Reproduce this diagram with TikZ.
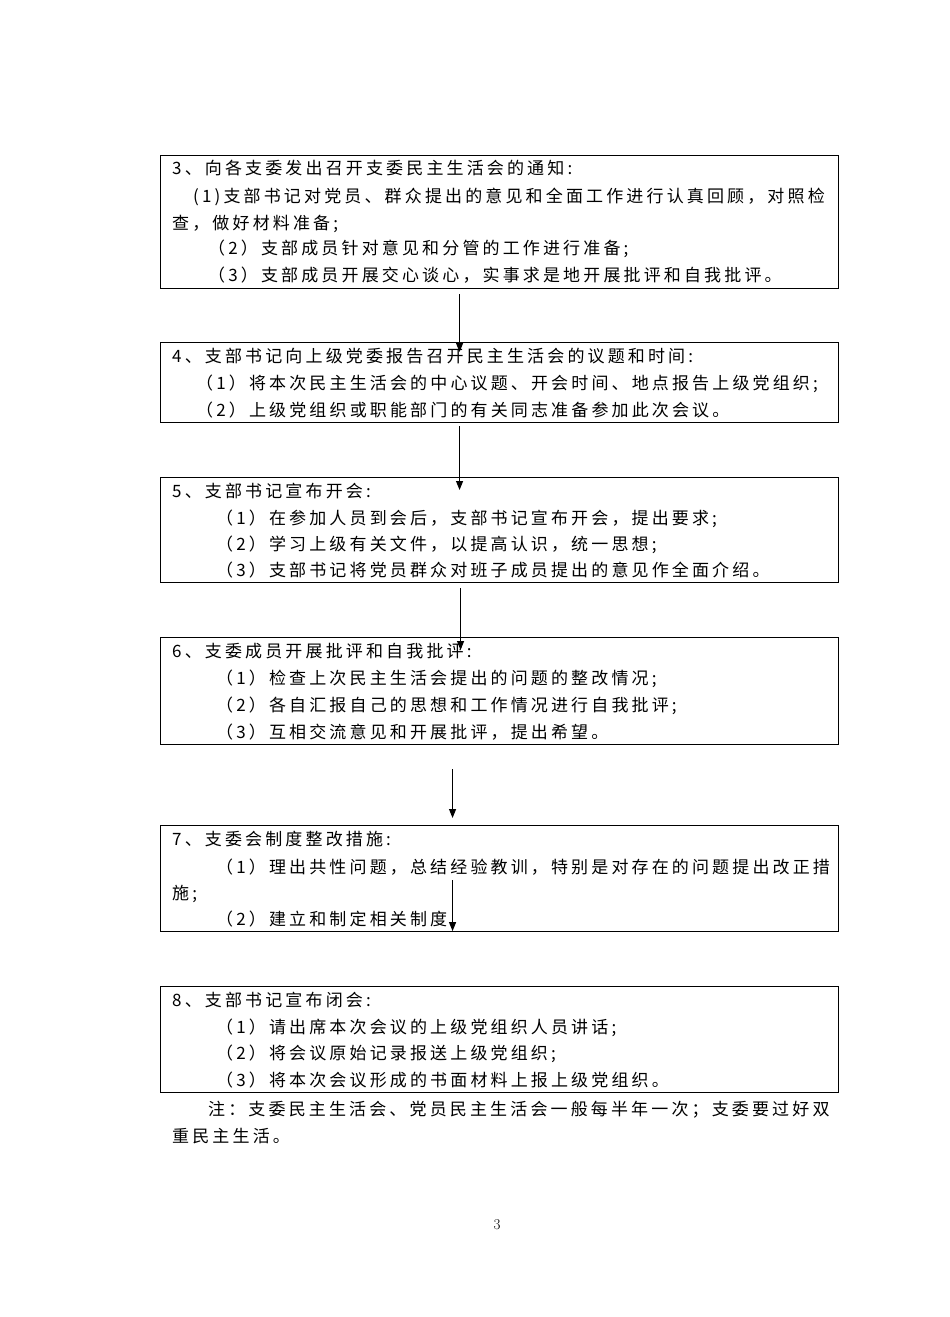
\documentclass[tikz,border=0pt]{standalone}
\usepackage{fontspec}
\usetikzlibrary{arrows.meta}
\newfontfamily\cjk[LetterSpace=18.5]{Noto Sans CJK SC}
\tikzset{
  box/.style={draw, line width=1.1pt, inner sep=0pt, anchor=north west},
  tl/.style={anchor=base west, inner sep=0pt, font=\cjk\fontsize{17}{17}\selectfont},
  arr/.style={line width=1.1pt, -{Triangle[length=9pt,width=7pt]}}
}
\begin{document}
\begin{tikzpicture}[x=1pt,y=-1pt]
\fill[white] (0,0) rectangle (950,1317);
\useasboundingbox (0,0) rectangle (950,1317);
% boxes
\node[box, minimum width=678pt, minimum height=133pt] (b3) at (160,155) {};
\node[box, minimum width=678pt, minimum height=80pt] (b4) at (160,342) {};
\node[box, minimum width=678pt, minimum height=105pt] (b5) at (160,477) {};
\node[box, minimum width=678pt, minimum height=107pt] (b6) at (160,637) {};
\node[box, minimum width=678pt, minimum height=106pt] (b7) at (160,825) {};
\node[box, minimum width=678pt, minimum height=106pt] (b8) at (160,986) {};
% box 3
\node[tl] (t31) at (172,174) {3、向各支委发出召开支委民主生活会的通知:};
\node[tl] (t32) at (193,202) {(1)支部书记对党员、群众提出的意见和全面工作进行认真回顾，对照检};
\node[tl] (t33) at (172,229) {查，做好材料准备;};
\node[tl] (t34) at (208,254) {（2）支部成员针对意见和分管的工作进行准备;};
\node[tl] (t35) at (208,281) {（3）支部成员开展交心谈心，实事求是地开展批评和自我批评。};
% box 4
\node[tl] (t41) at (172,362) {4、支部书记向上级党委报告召开民主生活会的议题和时间:};
\node[tl] (t42) at (196,389) {（1）将本次民主生活会的中心议题、开会时间、地点报告上级党组织;};
\node[tl] (t43) at (196,416) {（2）上级党组织或职能部门的有关同志准备参加此次会议。};
% box 5
\node[tl] (t51) at (172,497) {5、支部书记宣布开会:};
\node[tl] (t52) at (216,524) {（1）在参加人员到会后，支部书记宣布开会，提出要求;};
\node[tl] (t53) at (216,550) {（2）学习上级有关文件，以提高认识，统一思想;};
\node[tl] (t54) at (216,576) {（3）支部书记将党员群众对班子成员提出的意见作全面介绍。};
% box 6
\node[tl] (t61) at (172,657) {6、支委成员开展批评和自我批评:};
\node[tl] (t62) at (216,684) {（1）检查上次民主生活会提出的问题的整改情况;};
\node[tl] (t63) at (216,711) {（2）各自汇报自己的思想和工作情况进行自我批评;};
\node[tl] (t64) at (216,738) {（3）互相交流意见和开展批评，提出希望。};
% box 7
\node[tl] (t71) at (172,845) {7、支委会制度整改措施:};
\node[tl] (t72) at (216,873) {（1）理出共性问题，总结经验教训，特别是对存在的问题提出改正措};
\node[tl] (t73) at (172,899) {施;};
\node[tl] (t74) at (216,925) {（2）建立和制定相关制度};
% box 8
\node[tl] (t81) at (172,1006) {8、支部书记宣布闭会:};
\node[tl] (t82) at (216,1033) {（1）请出席本次会议的上级党组织人员讲话;};
\node[tl] (t83) at (216,1059) {（2）将会议原始记录报送上级党组织;};
\node[tl] (t84) at (216,1086) {（3）将本次会议形成的书面材料上报上级党组织。};
% note
\node[tl] (n1) at (208,1115) {注：支委民主生活会、党员民主生活会一般每半年一次；支委要过好双};
\node[tl] (n2) at (172,1142) {重民主生活。};
% page number
\node[inner sep=0pt, font=\fontsize{15}{15}\selectfont] (pg) at (497,1225) {3};
% arrows
\draw[arr] ([xshift=-40pt,yshift=-5pt]b3.south) -- ([xshift=-40pt,yshift=-10pt]b4.north);
\draw[arr] ([xshift=-40pt,yshift=-3pt]b4.south) -- ([xshift=-40pt,yshift=-13pt]b5.north);
\draw[arr] ([xshift=-39pt,yshift=-5pt]b5.south) -- ([xshift=-39pt,yshift=-13pt]b6.north);
\draw[arr] ([xshift=-47pt,yshift=-24pt]b6.south) -- ([xshift=-47pt,yshift=7pt]b7.north);
\draw[arr] ([xshift=-47pt,yshift=-55pt]b7.north) -- ([xshift=-47pt,yshift=1pt]b7.south);
\end{tikzpicture}
\end{document}
